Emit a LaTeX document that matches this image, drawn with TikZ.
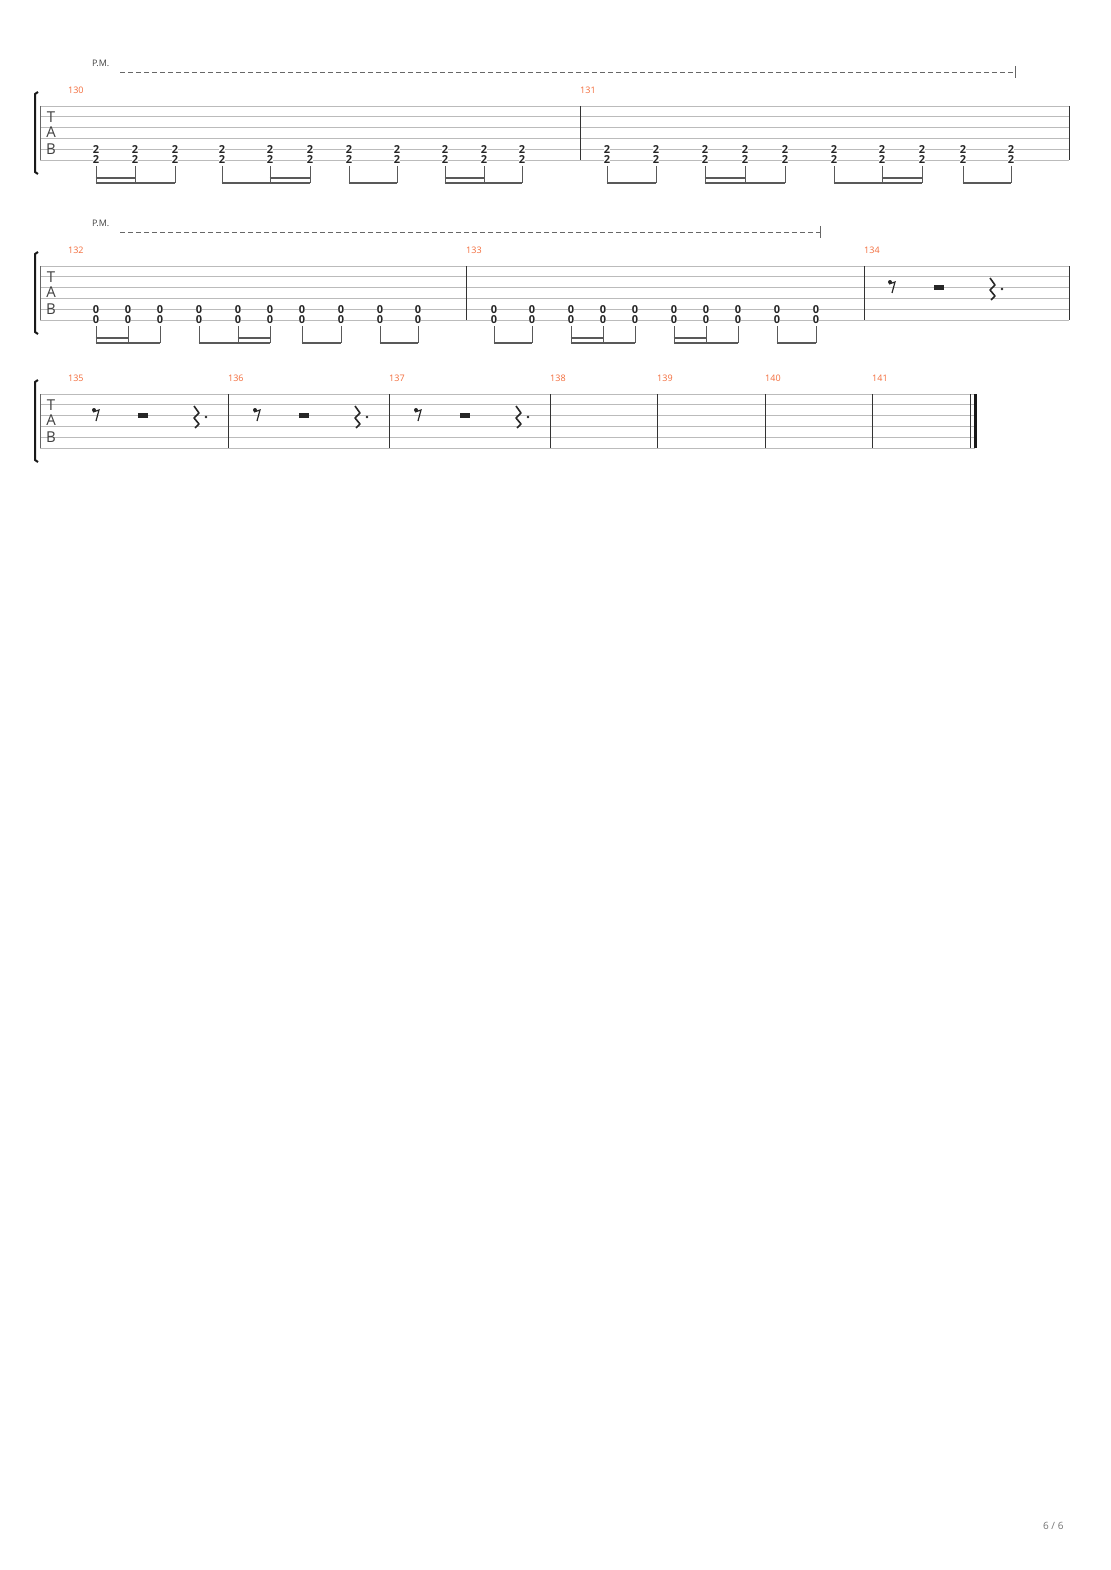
\documentclass[tikz,border=0pt]{standalone}
\usepackage{fontspec}
\setmainfont{Open Sans}
\definecolor{barnum}{HTML}{F26B3A}
\definecolor{staffc}{HTML}{BBBBBB}
\begin{document}
\begin{tikzpicture}[x=1pt,y=-1pt,
  staff/.style={staffc,line width=0.8pt},
  bar/.style={black!80,line width=1pt},
  fret/.style={font=\fontsize{11}{11}\selectfont\bfseries,text=black!85,inner sep=0pt,fill=white},
  num/.style={font=\fontsize{9}{9}\selectfont,text=barnum,anchor=west,inner sep=0pt},
  tab/.style={font=\fontsize{15}{15}\selectfont,text=black!75,inner sep=0pt},
  beam/.style={black!65,line width=2.2pt},
  stem/.style={black!65,line width=0.8pt},
  pm/.style={font=\fontsize{9}{9}\selectfont,text=black!75,anchor=west,inner sep=0pt},
  pmline/.style={black!60,dashed,dash pattern=on 5pt off 3pt,line width=0.8pt}]
\useasboundingbox (0,0) rectangle (1110,1570);
% staff drawing macro
\newcommand{\stave}[3]{% top y, right x, name
  \foreach \i in {0,...,5}{\draw[staff] (40,#1+\i*10.8) -- (#2,#1+\i*10.8);}
  \draw[black!60,line width=0.6pt] (40,#1) -- (40,#1+54);
  \draw[black!90,line width=2pt] (38,#1-14) -- (35,#1-12) -- (35,#1+66) -- (38,#1+68);
  \node[tab] (T#3) at (51,#1+11) {T};
  \node[tab] (A#3) at (51,#1+26) {A};
  \node[tab] (B#3) at (51,#1+43) {B};
}
\newcommand{\notes}[3]{% top y, digit, list of x
  \foreach \x in {#3}{
    \node[fret] (n#1x\x a) at (\x,#1+43.2) {#2};
    \node[fret] (n#1x\x b) at (\x,#1+54) {#2};
    \draw[stem] (\x,#1+60) -- (\x,#1+77);}
}
\newcommand{\beamgrp}[3]{% y, x1, x2 eighth beam
  \draw[beam] (#2-0.4,#1+77) -- (#3+0.4,#1+77);}
\newcommand{\sbeam}[3]{\draw[beam] (#2-0.4,#1+72) -- (#3+0.4,#1+72);}
\newcommand{\rests}[2]{% x of eighth rest, top y
  \fill[black!85] (#1-2,#2+16) circle (2pt);
  \draw[black!85,line width=1.2pt] (#1-3,#2+18) -- (#1+3,#2+16) -- (#1,#2+27);
  \fill[black!85] (#1+42,#2+18.5) rectangle (#1+52,#2+23.5);
  \draw[black!85,line width=1.6pt,line join=round] (#1+98,#2+12) -- (#1+103,#2+19) -- (#1+98,#2+24) -- (#1+103,#2+30) -- (#1+99,#2+34);
  \fill[black!85] (#1+110,#2+23) circle (1.3pt);
}
% ---------- system 1
\stave{106}{1069}{1}
\draw[bar] (580,106) -- (580,160);
\draw[bar] (1069,106) -- (1069,160);
\node[num] (m130) at (68,90) {130};
\node[num] (m131) at (580,90) {131};
\node[pm] (pm1) at (92,63) {P.M.};
\coordinate (pm1s) at (120,72); \coordinate (pm1e) at (1015,72);
\draw[pmline] (pm1s) -- (pm1e);
\draw[black!60,line width=0.8pt] (1015,66) -- (1015,78);
\notes{106}{2}{96,135,175,222,270,310,349,397,445,484,522,607,656,705,745,785,834,882,922,963,1011}
\beamgrp{106}{96}{175}\sbeam{106}{96}{135}
\beamgrp{106}{222}{310}\sbeam{106}{270}{310}
\beamgrp{106}{349}{397}
\beamgrp{106}{445}{522}\sbeam{106}{445}{484}
\beamgrp{106}{607}{656}
\beamgrp{106}{705}{785}\sbeam{106}{705}{745}
\beamgrp{106}{834}{922}\sbeam{106}{882}{922}
\beamgrp{106}{963}{1011}
% ---------- system 2
\stave{266}{1069}{2}
\draw[bar] (466,266) -- (466,320);
\draw[bar] (864,266) -- (864,320);
\draw[bar] (1069,266) -- (1069,320);
\node[num] (m132) at (68,250) {132};
\node[num] (m133) at (466,250) {133};
\node[num] (m134) at (864,250) {134};
\node[pm] (pm2) at (92,223) {P.M.};
\coordinate (pm2s) at (120,232); \coordinate (pm2e) at (820,232);
\draw[pmline] (pm2s) -- (pm2e);
\draw[black!60,line width=0.8pt] (820,226) -- (820,238);
\notes{266}{0}{96,128,160,199,238,270,302,341,380,418,494,532,571,603,635,674,706,738,777,816}
\beamgrp{266}{96}{160}\sbeam{266}{96}{128}
\beamgrp{266}{199}{270}\sbeam{266}{238}{270}
\beamgrp{266}{302}{341}
\beamgrp{266}{380}{418}
\beamgrp{266}{494}{532}
\beamgrp{266}{571}{635}\sbeam{266}{571}{603}
\beamgrp{266}{674}{738}\sbeam{266}{674}{706}
\beamgrp{266}{777}{816}
\rests{892}{266}
% ---------- system 3
\stave{394}{975}{3}
\foreach \b in {228,389,550,657,765,872}{\draw[bar] (\b,394) -- (\b,448);}
\draw[black!80,line width=0.8pt] (970,394) -- (970,448);
\draw[black!90,line width=3.5pt] (975.5,394) -- (975.5,448);
\node[num] (m135) at (68,378) {135};
\node[num] (m136) at (228,378) {136};
\node[num] (m137) at (389,378) {137};
\node[num] (m138) at (550,378) {138};
\node[num] (m139) at (657,378) {139};
\node[num] (m140) at (765,378) {140};
\node[num] (m141) at (872,378) {141};
\rests{96}{394}\rests{257}{394}\rests{418}{394}
\node[font=\fontsize{10}{10}\selectfont,text=black!55,anchor=east] (page) at (1067,1526) {6 / 6};
\end{tikzpicture}
\end{document}
